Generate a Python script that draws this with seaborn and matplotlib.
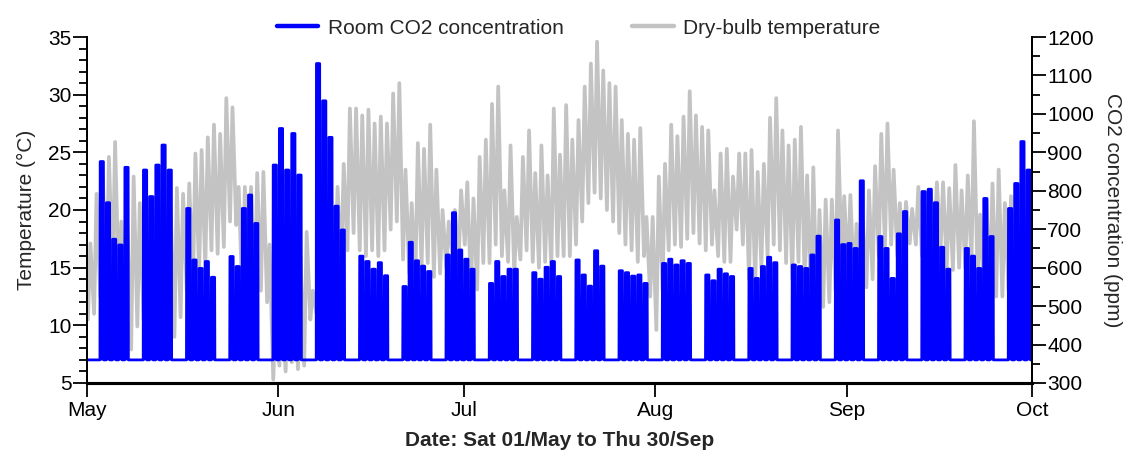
import numpy as np
import pandas as pd
import seaborn as sns
import matplotlib
matplotlib.use("Agg")
import matplotlib.pyplot as plt
from matplotlib.ticker import MultipleLocator, FixedLocator
from matplotlib.lines import Line2D

# ---------------- data ----------------
# daily dry-bulb temperature extremes, Sat 01/May .. Thu 30/Sep (153 days)
t_max = [17.1, 21.4, 23.0, 24.6, 25.9, 19.0, 18.5, 22.9, 20.6, 21.0,
         20.5, 22.0, 21.0, 20.0, 21.9, 21.4, 22.3, 24.9, 25.2, 26.3,
         27.4, 26.6, 29.7, 28.9, 22.0, 22.0, 22.0, 23.2, 23.3, 17.0,
         12.0, 13.0, 13.0, 14.0, 16.0, 18.1, 13.0, 14.0, 16.0, 18.0,
         22.0, 24.0, 28.8, 28.8, 28.2, 28.7, 27.5, 28.1, 27.5, 30.1,
         31.0, 23.5, 20.6, 25.8, 25.3, 27.4, 23.5, 20.0, 19.0, 20.0,
         21.7, 22.4, 21.0, 24.6, 26.1, 29.2, 30.7, 21.7, 25.6, 19.4,
         24.6, 26.9, 23.2, 25.6, 23.0, 28.8, 24.8, 29.1, 26.1, 27.8,
         30.7, 32.7, 34.6, 32.1, 31.0, 30.7, 27.8, 26.6, 26.1, 27.1,
         19.4, 19.4, 22.9, 24.0, 27.4, 26.4, 28.1, 30.3, 28.2, 27.2,
         26.9, 21.7, 24.9, 25.3, 22.9, 24.9, 24.9, 25.2, 23.3, 24.0,
         28.0, 29.7, 26.9, 25.6, 26.1, 27.2, 23.0, 23.7, 20.0, 20.9,
         20.9, 26.9, 21.2, 21.3, 18.8, 19.0, 21.7, 23.8, 26.6, 27.5,
         23.5, 20.6, 20.7, 20.1, 22.0, 20.6, 21.5, 22.4, 22.4, 21.9,
         23.9, 21.7, 23.0, 27.7, 19.6, 20.9, 22.3, 23.5, 20.6, 21.2,
         18.3, 17.7, 15.4]
t_min = [10.5, 11.0, 12.5, 13.5, 14.0, 13.0, 12.0, 7.9, 9.9, 10.5,
         11.0, 12.0, 11.0, 10.0, 9.0, 10.7, 13.0, 13.5, 14.5, 15.0,
         16.5, 16.2, 16.8, 19.0, 18.7, 12.5, 12.2, 12.5, 13.0, 12.0,
         5.3, 6.5, 6.0, 6.8, 6.2, 6.5, 10.5, 11.0, 11.0, 12.0,
         13.0, 15.0, 16.5, 18.0, 16.5, 16.0, 16.5, 16.0, 16.5, 18.3,
         19.0, 15.7, 14.5, 14.0, 15.0, 15.4, 14.2, 14.5, 15.0, 16.0,
         15.5, 17.0, 13.0, 13.1, 15.4, 15.4, 17.0, 16.0, 15.5, 14.5,
         15.7, 16.5, 15.5, 15.0, 15.5, 15.0, 16.0, 16.0, 16.0, 17.0,
         19.0, 20.6, 21.5, 21.0, 20.0, 19.0, 18.0, 17.0, 16.5, 15.5,
         16.0, 12.5, 9.6, 13.0, 16.5, 17.0, 16.8, 17.5, 18.0, 17.1,
         16.5, 17.0, 16.0, 15.5, 15.5, 18.3, 17.0, 14.0, 13.5, 15.0,
         16.0, 17.0, 16.5, 15.4, 14.0, 15.5, 14.0, 12.0, 10.5, 11.6,
         12.0, 13.0, 15.4, 14.5, 13.3, 14.0, 13.3, 14.0, 16.0, 16.8,
         17.0, 16.0, 15.5, 17.1, 17.0, 16.0, 15.0, 17.0, 16.5, 15.0,
         14.8, 15.0, 15.0, 15.5, 14.0, 13.0, 13.5, 12.5, 12.5, 13.0,
         13.5, 13.0, 12.0]
# daily peak room CO2 (ppm) on working days Mon 03/May .. Thu 30/Sep
co2_peak = [876, 769, 674, 659, 861,   854, 785, 867, 919, 854,
            754, 620, 598, 616, 575,   629, 603, 754, 789, 715,
            867, 962, 854, 949, 841,   1131, 1034, 939, 760, 698,
            630, 616, 596, 613, 579,   551, 666, 618, 604, 590,
            633, 743, 646, 622, 596,   559, 616, 577, 596, 596,
            587, 570, 601, 616, 577,   620, 581, 552, 644, 604,
            592, 587, 578, 581, 559,   611, 622, 607, 618, 611,
            581, 566, 596, 584, 577,   598, 572, 603, 627, 613,
            607, 603, 598, 633, 682,   724, 660, 663, 650, 826,
            681, 650, 572, 688, 746,   798, 804, 769, 653, 596,
            650, 630, 598, 780, 681,   754, 819, 928, 854]
co2_base = 360
month_labels = ["May", "Jun", "Jul", "Aug", "Sep", "Oct"]
month_starts = pd.to_datetime(["2021-05-01", "2021-06-01", "2021-07-01",
                               "2021-08-01", "2021-09-01", "2021-10-01"])

# ---------------- build series ----------------
start = pd.Timestamp("2021-05-01")
days = pd.date_range(start, "2021-09-30", freq="D")
workdays = pd.bdate_range("2021-05-01", "2021-09-30")
peak_of = dict(zip(workdays, co2_peak))

def dnum(ts):
    return (ts - start) / pd.Timedelta(days=1)

tx, ty = [], []
for day, lo, hi in zip(days, t_min, t_max):
    d = dnum(day)
    tx += [d + 0.2, d + 0.6]
    ty += [lo, hi]
temp_df = pd.DataFrame({"day": tx, "temp": ty})

# occupied part of each working day on the plotted clock
cx, cy = [0.0], [co2_base]
for day in days:
    d = dnum(day)
    if day in peak_of:
        p = peak_of[day]
        cx += [d + 0.15, d + 0.19, d + 0.71, d + 0.75]
        cy += [co2_base, p, p, co2_base]
    else:
        cx += [d + 0.5]
        cy += [co2_base]
cx.append(float(len(days)))
cy.append(co2_base)
co2_df = pd.DataFrame({"day": cx, "co2": cy})

# ---------------- plot ----------------
sns.set_theme(style="white")
plt.rcParams["font.family"] = ["Liberation Sans", "DejaVu Sans"]

fig = plt.figure(figsize=(11.3, 4.57), dpi=100)
ax = fig.add_axes([0.0767, 0.162, 0.8366, 0.757])
ax2 = ax.twinx()

grey = "#c3c3c3"
blue = "#0000ff"
sns.lineplot(data=temp_df, x="day", y="temp", ax=ax, color=grey, lw=2.7,
             estimator=None, sort=False)
sns.lineplot(data=co2_df, x="day", y="co2", ax=ax2, color=blue, lw=2.0,
             estimator=None, sort=False)
ax2.fill_between(co2_df["day"], co2_base, co2_df["co2"], color=blue, lw=0)

ax.set_xlim(0, len(days))
ax.set_ylim(5, 35)
ax2.set_ylim(300, 1200)

ax.xaxis.set_major_locator(FixedLocator([dnum(m) for m in month_starts]))
ax.set_xticklabels(month_labels)
ax.yaxis.set_major_locator(MultipleLocator(5))
ax.yaxis.set_minor_locator(MultipleLocator(1))
ax2.yaxis.set_major_locator(MultipleLocator(100))
ax2.yaxis.set_minor_locator(MultipleLocator(50))

fs = 15
for a in (ax, ax2):
    a.tick_params(axis="both", which="both", direction="out", colors="black",
                  labelsize=fs, width=1.3)
    a.tick_params(axis="y", which="major", length=10, pad=1)
    a.tick_params(axis="y", which="minor", length=5.5)
    a.spines["top"].set_visible(False)
    for s in ("left", "right", "bottom"):
        a.spines[s].set_color("black")
        a.spines[s].set_linewidth(1.4)
    a.spines["bottom"].set_linewidth(2.2)
ax.tick_params(axis="x", which="major", length=10, bottom=True, pad=3)
ax.tick_params(axis="y", left=True, right=False)
ax2.tick_params(axis="y", which="both", right=True, left=False)

ax.set_ylabel("Temperature (°C)", fontsize=fs, labelpad=9)
ax2.set_ylabel("CO2 concentration (ppm)", fontsize=fs, rotation=270,
               labelpad=20)
ax.set_xlabel("Date: Sat 01/May to Thu 30/Sep", fontsize=fs,
              fontweight="bold", labelpad=8)

handles = [Line2D([], [], color=blue, lw=3.2),
           Line2D([], [], color=grey, lw=3.2)]
fig.legend(handles, ["Room CO2 concentration", "Dry-bulb temperature"],
           loc="upper center", bbox_to_anchor=(0.512, 1.0), ncol=2,
           frameon=False, fontsize=fs, handlelength=2.0, columnspacing=3.3,
           handletextpad=0.45)

fig.savefig("out.png", dpi=100)
